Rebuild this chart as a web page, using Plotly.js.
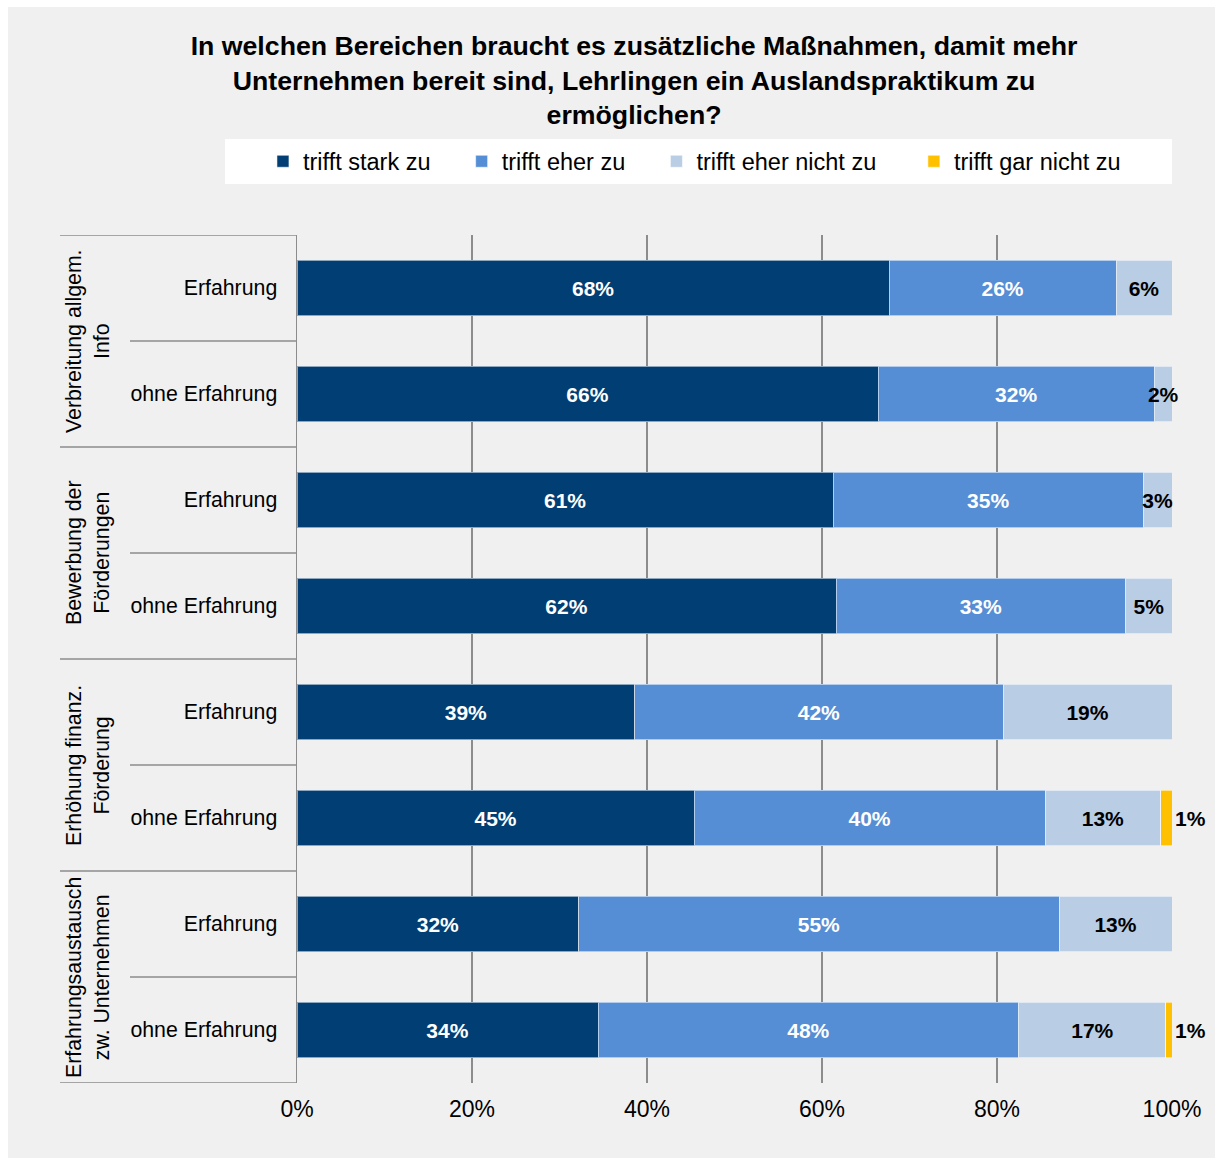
<!DOCTYPE html>
<html>
<head>
<meta charset="utf-8">
<script src="https://cdn.plot.ly/plotly-3.0.1.min.js"></script>
<style>
  html, body { margin: 0; padding: 0; background: #ffffff; }
  #chart { position: absolute; left: 8px; top: 7px; width: 1207px; height: 1151px; }
</style>
</head>
<body>
<div id="chart"></div>
<script>
// ---- data ----
const groups = [
  'Verbreitung allgem.<br>Info',
  'Bewerbung der<br>Förderungen',
  'Erhöhung finanz.<br>Förderung',
  'Erfahrungsaustausch<br>zw. Unternehmen'
];
const rowLabels = [
  'Erfahrung', 'ohne Erfahrung',
  'Erfahrung', 'ohne Erfahrung',
  'Erfahrung', 'ohne Erfahrung',
  'Erfahrung', 'ohne Erfahrung'
];
const seriesNames = ['trifft stark zu', 'trifft eher zu', 'trifft eher nicht zu', 'trifft gar nicht zu'];
const starkZu     = [67.7, 66.4, 61.3, 61.6, 38.6, 45.4, 32.2, 34.4];
const eherZu      = [25.9, 31.6, 35.4, 33.1, 42.1, 40.1, 54.9, 48.1];
const eherNichtZu = [6.4, 2.0, 3.3, 5.3, 19.3, 13.2, 12.9, 16.8];
const garNichtZu  = [null, null, null, null, null, 1.3, null, 0.7];
const xTicks = [0, 20, 40, 60, 80, 100];

// ---- styling ----
const FONT = 'Arial, "Liberation Sans", sans-serif';
const colors = ['#003e74', '#558ed5', '#b9cde5', '#ffc000'];
const rowIdx = rowLabels.map((_, i) => i);
const seriesValues = [starkZu, eherZu, eherNichtZu, garNichtZu];
const NB = '\u00a0';
const namePad = [NB.repeat(4), NB.repeat(4), NB.repeat(5), ''];

const traces = seriesValues.map((vals, k) => ({
  type: 'bar',
  orientation: 'h',
  name: seriesNames[k] + namePad[k],
  x: vals,
  y: rowIdx,
  marker: { color: colors[k], line: { color: 'rgba(255,255,255,0.55)', width: 1 } },
  texttemplate: '%{x:.0f}%',
  textposition: k === 3 ? 'outside' : 'inside',
  insidetextanchor: 'middle',
  constraintext: 'none',
  textangle: 0,
  cliponaxis: false,
  textfont: { family: FONT, size: 21, weight: 'bold', color: k < 2 ? '#ffffff' : '#000000' },
  outsidetextfont: { family: FONT, size: 21, weight: 'bold', color: '#000000' },
  hoverinfo: 'skip'
}));

// divider lines on the left side (in y data units)
const GRID = '#8c8c8c';
const shapes = [];
// legend white box
shapes.push({ type: 'rect', xref: 'paper', yref: 'paper', x0: -0.0823, x1: 1.0, y0: 1.0601, y1: 1.1132,
  fillcolor: '#ffffff', line: { width: 0 }, layer: 'below' });
for (let i = 0; i <= rowLabels.length; i++) {
  const isGroupEdge = (i % 2 === 0);
  shapes.push({
    type: 'line', xref: 'paper', yref: 'y',
    x0: isGroupEdge ? -0.2709 : -0.1909, x1: 0,
    y0: i - 0.5, y1: i - 0.5,
    line: { color: GRID, width: 1.5 }
  });
}

const annotations = groups.map((g, j) => ({
  text: g, xref: 'paper', yref: 'y',
  x: -0.2389, y: j * 2 + 0.5,
  xanchor: 'center', yanchor: 'middle',
  textangle: -90, showarrow: false, align: 'center',
  font: { family: FONT, size: 21.3, color: '#000000' }
}));

const layout = {
  width: 1207, height: 1151,
  paper_bgcolor: '#f0f0f0', plot_bgcolor: '#f0f0f0',
  margin: { l: 289, r: 43, t: 228, b: 75 },
  barmode: 'stack',
  bargap: 0.48,
  font: { family: FONT, color: '#000000' },
  title: {
    text: 'In welchen Bereichen braucht es zusätzliche Maßnahmen, damit mehr<br>Unternehmen bereit sind, Lehrlingen ein Auslandspraktikum zu<br>ermöglichen?',
    font: { family: FONT, size: 26.7, weight: 'bold', color: '#000000' },
    xref: 'container', yref: 'container',
    x: 0.5187, xanchor: 'center',
    y: 1 - 48 / 1151, yanchor: 'top'
  },
  legend: {
    orientation: 'h',
    x: -0.0389, xanchor: 'left',
    y: 1.0867, yanchor: 'middle',
    bgcolor: 'rgba(0,0,0,0)',
    font: { family: FONT, size: 23.5, color: '#000000' },
    traceorder: 'normal'
  },
  xaxis: {
    range: [0, 100],
    tickvals: xTicks,
    ticktext: xTicks.map(v => v + '%'),
    showgrid: true, gridcolor: GRID, gridwidth: 1.5,
    zeroline: false, showline: false,
    ticks: '', ticklabelstandoff: 10,
    tickfont: { family: FONT, size: 23, color: '#000000' },
    fixedrange: true
  },
  yaxis: {
    range: [rowLabels.length - 0.5, -0.5],
    tickvals: rowIdx,
    ticktext: rowLabels,
    showgrid: false, zeroline: false,
    showline: true, linecolor: GRID, linewidth: 1.5,
    ticks: '', ticklabelstandoff: 14,
    tickfont: { family: FONT, size: 21.3, color: '#000000' },
    fixedrange: true
  },
  shapes: shapes,
  annotations: annotations,
  showlegend: true
};

Plotly.newPlot('chart', traces, layout, { displayModeBar: false, staticPlot: true });
</script>
</body>
</html>
